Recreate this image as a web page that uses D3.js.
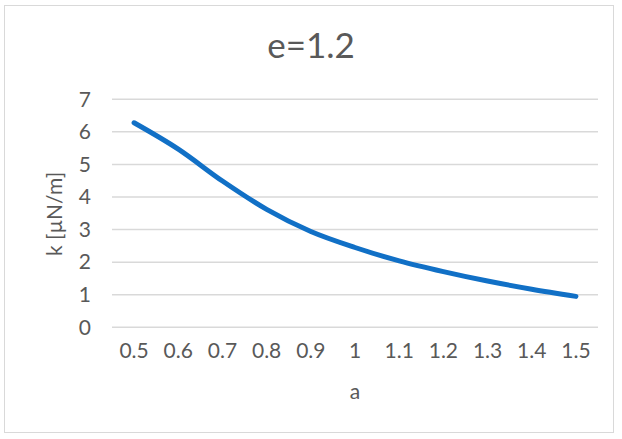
<!DOCTYPE html>
<html>
<head>
<meta charset="utf-8">
<script src="https://cdn.jsdelivr.net/npm/d3@7"></script>
<style>
  html, body { margin: 0; padding: 0; background: #fff; }
  svg { display: block; }
  text { font-family: "Century Gothic", "Lato", "DejaVu Sans", sans-serif; fill: #595959; }
</style>
</head>
<body>
<svg id="chart" width="622" height="439"></svg>
<script>
// Spring constant k versus a, for e = 1.2
const categories = ["0.5", "0.6", "0.7", "0.8", "0.9", "1", "1.1", "1.2", "1.3", "1.4", "1.5"];
const kValues = [6.28, 5.47, 4.49, 3.62, 2.94, 2.45, 2.04, 1.71, 1.42, 1.17, 0.95];
const yTicks = [0, 1, 2, 3, 4, 5, 6, 7];
const titleText = "e=1.2";
const xTitle = "a";
const yTitle = "k [µN/m]";

const W = 622, H = 439;
const margin = { left: 112, right: 24, top: 99.3, bottom: 111.7 };
const labelSize = 21;
const svg = d3.select("#chart");

// outer frame
svg.append("rect")
  .attr("x", 4.5).attr("y", 5.5)
  .attr("width", 609).attr("height", 427)
  .attr("fill", "#fff").attr("stroke", "#d9d9d9").attr("stroke-width", 1);

const x = d3.scaleBand()
  .domain(categories)
  .range([margin.left, W - margin.right]);

const y = d3.scaleLinear()
  .domain([0, 7])
  .range([H - margin.bottom, margin.top]);

// horizontal gridlines
svg.append("g")
  .selectAll("line")
  .data(yTicks)
  .join("line")
  .attr("x1", margin.left).attr("x2", W - margin.right)
  .attr("y1", d => y(d)).attr("y2", d => y(d))
  .attr("stroke", "#d9d9d9").attr("stroke-width", 1.5);

// y axis labels
const yAxis = d3.axisLeft(y).tickValues(yTicks).tickFormat(d3.format("d")).tickSize(0).tickPadding(21);
svg.append("g")
  .attr("transform", `translate(${margin.left},0)`)
  .call(yAxis)
  .call(g => g.select(".domain").remove())
  .selectAll("text")
  .style("font-family", null)
  .attr("font-size", labelSize);

// x axis labels
const xAxis = d3.axisBottom(x).tickSize(0).tickPadding(16);
svg.append("g")
  .attr("transform", `translate(0,${H - margin.bottom})`)
  .call(xAxis)
  .call(g => g.select(".domain").remove())
  .selectAll("text")
  .style("font-family", null)
  .attr("font-size", labelSize);

// data line
const line = d3.line()
  .x((d, i) => x(categories[i]) + x.bandwidth() / 2)
  .y(d => y(d))
  .curve(d3.curveMonotoneX);

svg.append("path")
  .datum(kValues)
  .attr("d", line)
  .attr("fill", "none")
  .attr("stroke", "#1170c6")
  .attr("stroke-width", 5)
  .attr("stroke-linecap", "round")
  .attr("stroke-linejoin", "round");

// chart title
svg.append("text")
  .attr("x", 311).attr("y", 58)
  .attr("text-anchor", "middle")
  .attr("font-size", 35)
  .text(titleText);

// axis titles
svg.append("text")
  .attr("x", 355).attr("y", 399)
  .attr("text-anchor", "middle")
  .attr("font-size", labelSize)
  .text(xTitle);

svg.append("text")
  .attr("transform", "translate(62,214) rotate(-90)")
  .attr("text-anchor", "middle")
  .attr("font-size", labelSize)
  .text(yTitle);
</script>
</body>
</html>
